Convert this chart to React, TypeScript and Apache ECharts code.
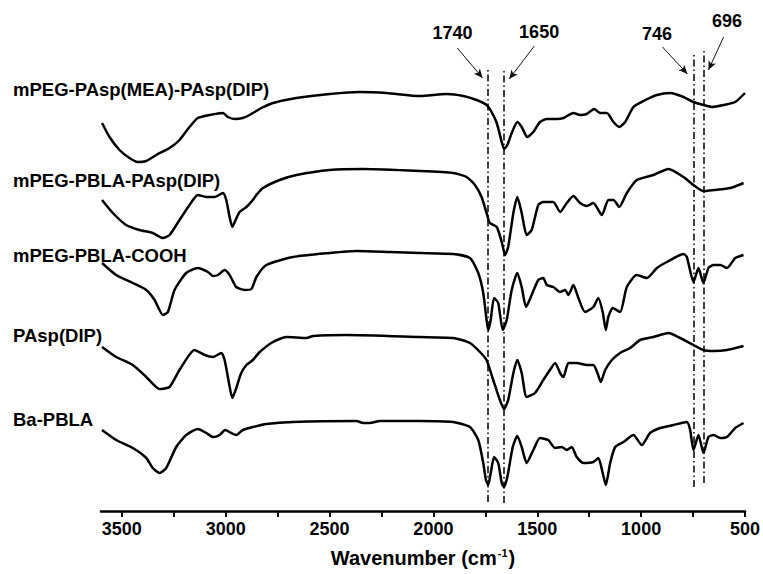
import React, { useEffect, useRef } from "react";
import * as echarts from "echarts";

// FTIR spectra (wavenumber in cm^-1, transmittance in arbitrary offset units)
const spectrumMEA: number[][] = [
  [3595, 388], [3559, 374], [3511, 361], [3463, 353], [3423, 349], [3382, 350], [3334, 356],
  [3270, 363], [3222, 371], [3174, 384], [3134, 393], [3077, 396], [3013, 398], [2989, 394],
  [2957, 392], [2917, 393], [2885, 396], [2860, 399], [2828, 403], [2772, 408], [2659, 413],
  [2499, 417], [2354, 419], [2226, 418], [2065, 415], [1936, 417], [1856, 415], [1792, 411],
  [1744, 406], [1720, 399], [1695, 388], [1671, 369], [1660, 362], [1644, 366], [1623, 378],
  [1596, 389], [1575, 384], [1548, 374], [1519, 379], [1487, 389], [1454, 392], [1406, 392],
  [1374, 393], [1326, 398], [1294, 396], [1262, 397], [1226, 402], [1198, 398], [1165, 398],
  [1133, 389], [1106, 384], [1077, 389], [1037, 404], [989, 410], [924, 416], [860, 418],
  [796, 414], [748, 409], [700, 406], [659, 404], [603, 406], [547, 409], [500, 418],
];

const spectrumPBLAPAsp: number[][] = [
  [3595, 311], [3543, 298], [3479, 286], [3415, 281], [3351, 278], [3302, 273], [3270, 276],
  [3222, 291], [3174, 306], [3134, 316], [3093, 314], [3053, 314], [3013, 318], [2997, 311],
  [2981, 294], [2968, 284], [2952, 291], [2933, 299], [2900, 304], [2869, 311], [2852, 316],
  [2820, 323], [2740, 331], [2659, 336], [2499, 341], [2338, 342], [2065, 340], [1905, 338],
  [1840, 334], [1800, 326], [1768, 314], [1744, 298], [1728, 288], [1695, 284], [1671, 269],
  [1655, 256], [1640, 264], [1615, 298], [1596, 314], [1575, 298], [1551, 276], [1527, 281],
  [1495, 306], [1471, 309], [1423, 309], [1390, 299], [1358, 308], [1326, 315], [1294, 308],
  [1262, 305], [1230, 308], [1189, 296], [1158, 311], [1133, 311], [1105, 304], [1069, 318],
  [1021, 331], [941, 336], [868, 342], [796, 334], [748, 326], [700, 320], [651, 321],
  [571, 323], [507, 328],
];

const spectrumPBLACOOH: number[][] = [
  [3595, 248], [3527, 236], [3447, 228], [3382, 221], [3342, 211], [3302, 196], [3278, 199],
  [3246, 221], [3190, 238], [3134, 243], [3085, 239], [3061, 235], [3037, 236], [3005, 241],
  [2981, 236], [2949, 224], [2909, 221], [2876, 222], [2852, 234], [2804, 246], [2676, 254],
  [2499, 258], [2370, 260], [2210, 259], [2065, 258], [1905, 257], [1824, 253], [1784, 238],
  [1760, 218], [1744, 191], [1736, 181], [1724, 191], [1708, 213], [1688, 208], [1666, 181],
  [1647, 191], [1623, 221], [1596, 238], [1575, 224], [1554, 204], [1527, 216], [1495, 231],
  [1471, 233], [1454, 226], [1423, 224], [1390, 219], [1366, 221], [1350, 216], [1326, 226],
  [1302, 213], [1270, 199], [1230, 204], [1206, 213], [1185, 199], [1170, 181], [1158, 194],
  [1136, 203], [1101, 199], [1069, 224], [1021, 236], [972, 233], [924, 243], [876, 249],
  [796, 257], [780, 254], [748, 229], [724, 243], [700, 228], [676, 243], [651, 246],
  [619, 246], [587, 243], [547, 253], [507, 256],
];

const spectrumPAsp: number[][] = [
  [3595, 164], [3527, 154], [3447, 146], [3382, 134], [3318, 122], [3270, 124], [3222, 141],
  [3150, 161], [3101, 156], [3061, 154], [3021, 158], [3005, 151], [2984, 128], [2968, 113],
  [2952, 121], [2925, 138], [2900, 146], [2869, 151], [2836, 159], [2772, 169], [2708, 174],
  [2611, 173], [2579, 175], [2418, 176], [2065, 174], [1905, 173], [1824, 168], [1776, 159],
  [1744, 151], [1712, 131], [1680, 111], [1660, 102], [1640, 111], [1615, 138], [1596, 151],
  [1575, 138], [1551, 114], [1511, 118], [1471, 131], [1439, 141], [1414, 148], [1390, 138],
  [1374, 134], [1350, 148], [1310, 148], [1262, 146], [1230, 146], [1210, 138], [1194, 129],
  [1173, 141], [1141, 151], [1101, 158], [1053, 163], [1005, 171], [941, 174], [868, 178],
  [812, 173], [748, 166], [700, 161], [651, 160], [587, 161], [507, 165],
];

const spectrumBaPBLA: number[][] = [
  [3595, 81], [3527, 71], [3447, 63], [3382, 53], [3351, 43], [3318, 38], [3286, 43],
  [3238, 64], [3190, 76], [3134, 82], [3093, 78], [3061, 74], [3029, 76], [3002, 81],
  [2973, 78], [2949, 76], [2917, 81], [2869, 84], [2804, 87], [2676, 89], [2370, 90],
  [2338, 88], [2306, 88], [2258, 90], [2065, 90], [1905, 89], [1824, 84], [1784, 71],
  [1760, 48], [1747, 31], [1736, 26], [1724, 38], [1708, 54], [1688, 48], [1671, 28],
  [1660, 24], [1644, 34], [1618, 64], [1596, 75], [1575, 64], [1551, 48], [1519, 61],
  [1487, 73], [1447, 71], [1414, 63], [1382, 64], [1358, 61], [1334, 64], [1310, 54],
  [1278, 48], [1230, 49], [1206, 53], [1185, 38], [1170, 26], [1149, 48], [1125, 64],
  [1085, 69], [1037, 76], [997, 66], [957, 78], [908, 83], [844, 86], [780, 89],
  [764, 81], [748, 61], [724, 76], [700, 58], [676, 74], [651, 76], [619, 73],
  [587, 74], [547, 83], [507, 88],
];

const seriesNames = [
  "mPEG-PAsp(MEA)-PAsp(DIP)",
  "mPEG-PBLA-PAsp(DIP)",
  "mPEG-PBLA-COOH",
  "PAsp(DIP)",
  "Ba-PBLA",
];

const tickValues = [500, 750, 1000, 1250, 1500, 1750, 2000, 2250, 2500, 2750, 3000, 3250, 3500];
const labelValues = [500, 1000, 1500, 2000, 2500, 3000, 3500];

// Peak annotations
const peakLabels = ["1740", "1650", "746", "696"];
const peakLinePositions = [1736, 1659, 748, 700];
const peakLineTop = [444, 442, 459, 462];
const peakLineBottom = [9, 8, 24, 28];
const arrowStart = [[1885, 463], [1514, 465], [897, 464], [603, 474]];
const arrowEnd = [[1763, 433], [1635, 432], [777, 437], [676, 441]];
const peakLabelPos = [[1908, 478], [1491, 479], [924, 477], [587, 490]];

const FONT = "'Liberation Sans', Arial, Helvetica, sans-serif";

export default function App() {
  const ref = useRef<HTMLDivElement>(null);

  useEffect(() => {
    if (!ref.current) return;
    const chart = echarts.init(ref.current, null, { renderer: "svg" });

    const spectra = [spectrumMEA, spectrumPBLAPAsp, spectrumPBLACOOH, spectrumPAsp, spectrumBaPBLA];
    const nameY = [89, 180, 255, 335, 419];

    const lineSeries: any[] = spectra.map((d, i) => ({
      type: "line",
      name: seriesNames[i],
      data: d,
      showSymbol: false,
      symbol: "none",
      smooth: 0.2,
      lineStyle: { color: "#000", width: 2.5 },
      silent: true,
      z: 3,
    }));

    const dashLines = peakLinePositions.map((x, i) => [
      { coord: [x, peakLineBottom[i]] },
      { coord: [x, peakLineTop[i]] },
    ]);
    const arrows = arrowStart.map((s, i) => [
      { coord: s, lineStyle: { type: "solid", width: 1, color: "#111" }, symbol: "none" },
      { coord: arrowEnd[i], symbol: "arrow", symbolSize: [6, 9] },
    ]);

    const nameGraphics = seriesNames.map((n, i) => ({
      type: "text",
      x: 13,
      y: nameY[i],
      silent: true,
      style: {
        text: n,
        fill: "#000",
        font: `bold 18.5px ${FONT}`,
        align: "left",
        verticalAlign: "middle",
      },
    }));

    const option: any = {
      animation: false,
      backgroundColor: "#fff",
      grid: { left: 101, right: 18, top: 0, bottom: 63, containLabel: false, outerBoundsMode: "none" },
      xAxis: {
        type: "value",
        min: 500,
        max: 3600,
        inverse: true,
        axisLine: { show: true, onZero: false, lineStyle: { color: "#000", width: 2.5 } },
        axisTick: { show: true, customValues: tickValues, length: 6, lineStyle: { color: "#000", width: 2 } },
        axisLabel: {
          show: true,
          customValues: labelValues,
          formatter: (v: number) => String(v),
          fontSize: 18,
          fontWeight: "bold",
          fontFamily: FONT,
          color: "#000",
          margin: 9,
        },
        splitLine: { show: false },
        name: "{t|Wavenumber (cm}{s|-1}{t|)}",
        nameLocation: "middle",
        nameGap: 36,
        nameTextStyle: {
          rich: {
            t: { fontSize: 20, fontWeight: "bold", fontFamily: FONT, color: "#000" },
            s: { fontSize: 11, fontWeight: "bold", fontFamily: FONT, color: "#000", padding: [0, 1, 11, 1] },
          },
        },
      },
      yAxis: { type: "value", min: 0, max: 511, show: false },
      series: [
        ...lineSeries,
        {
          type: "line",
          data: [],
          silent: true,
          markLine: {
            silent: true,
            symbol: ["none", "none"],
            label: { show: false },
            lineStyle: { color: "#000", width: 1.5, type: [7, 3, 1.5, 3] },
            data: [...dashLines, ...arrows],
          },
        },
      ],
      graphic: nameGraphics,
    };

    chart.setOption(option);

    // peak labels placed through the chart's own scales
    const peakGraphics = peakLabelPos.map((p, i) => {
      const px = chart.convertToPixel({ gridIndex: 0 }, p) as number[];
      return {
        type: "text",
        x: px[0],
        y: px[1],
        silent: true,
        style: {
          text: peakLabels[i],
          fill: "#000",
          font: `bold 18px ${FONT}`,
          align: "center",
          verticalAlign: "middle",
        },
      };
    });
    chart.setOption({ graphic: [...nameGraphics, ...peakGraphics] }, { replaceMerge: ["graphic"] });

    return () => chart.dispose();
  }, []);

  return (
    <div
      ref={ref}
      style={{ position: "fixed", left: 0, top: 0, width: 763, height: 574, background: "#fff" }}
    />
  );
}
